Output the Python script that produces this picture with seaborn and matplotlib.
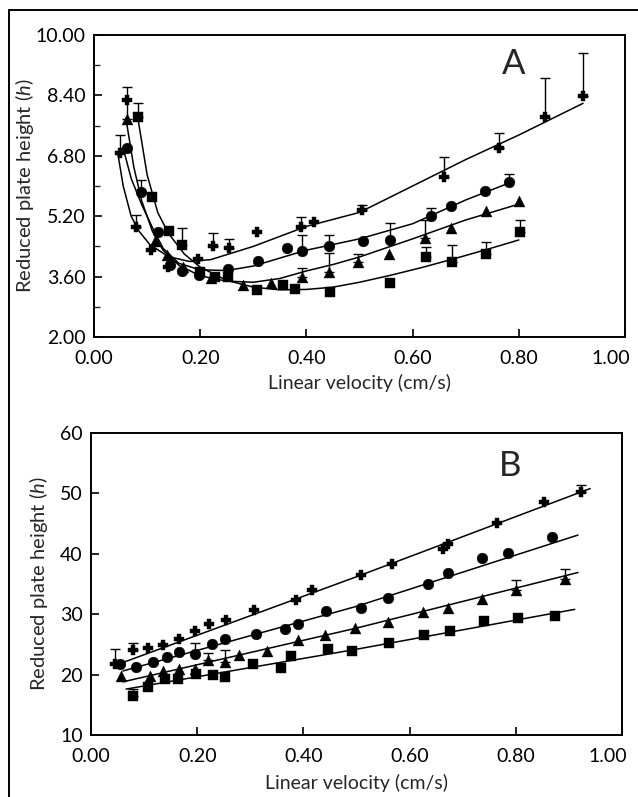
import numpy as np
import pandas as pd
import seaborn as sns
import matplotlib.pyplot as plt
import matplotlib.transforms as mtransforms
from matplotlib.lines import Line2D

# panel A data (linear velocity cm/s, reduced plate height h, top of error bar)
a_plus_v = [0.049, 0.062, 0.080, 0.108, 0.140, 0.196, 0.224, 0.255, 0.307, 0.389, 0.415, 0.504, 0.660, 0.763, 0.850, 0.921]
a_plus_h = [6.87, 8.28, 4.91, 4.30, 3.86, 4.06, 4.41, 4.35, 4.79, 4.92, 5.05, 5.36, 6.25, 7.00, 7.84, 8.38]
a_plus_top = [7.35, np.nan, 5.23, np.nan, np.nan, np.nan, 4.75, 4.60, np.nan, 5.19, np.nan, 5.50, 6.78, 7.40, 8.85, 9.53]

a_circ_v = [0.062, 0.088, 0.120, 0.143, 0.166, 0.197, 0.252, 0.308, 0.364, 0.392, 0.442, 0.506, 0.557, 0.635, 0.672, 0.736, 0.781]
a_circ_h = [7.00, 5.85, 4.79, 3.91, 3.76, 3.64, 3.79, 4.02, 4.35, 4.29, 4.41, 4.54, 4.57, 5.21, 5.48, 5.88, 6.10]
a_circ_top = [np.nan, 6.16, np.nan, np.nan, np.nan, np.nan, np.nan, np.nan, np.nan, 4.70, 4.70, np.nan, 5.01, 5.41, np.nan, np.nan, 6.32]

a_tri_v = [0.062, 0.115, 0.138, 0.168, 0.221, 0.280, 0.333, 0.392, 0.442, 0.498, 0.556, 0.624, 0.672, 0.738, 0.800]
a_tri_h = [7.77, 4.55, 4.17, 3.85, 3.55, 3.38, 3.42, 3.58, 3.71, 4.00, 4.19, 4.61, 4.88, 5.34, 5.61]
a_tri_top = [8.63, np.nan, np.nan, np.nan, np.nan, np.nan, np.nan, 3.82, 4.22, 4.20, np.nan, 5.10, np.nan, np.nan, np.nan]

a_sq_v = [0.082, 0.110, 0.141, 0.166, 0.199, 0.227, 0.252, 0.307, 0.355, 0.378, 0.445, 0.558, 0.625, 0.675, 0.739, 0.803]
a_sq_h = [7.84, 5.72, 4.82, 4.43, 3.71, 3.60, 3.60, 3.25, 3.38, 3.26, 3.20, 3.42, 4.13, 3.98, 4.19, 4.79]
a_sq_top = [8.19, np.nan, np.nan, 4.88, np.nan, np.nan, np.nan, np.nan, np.nan, np.nan, np.nan, np.nan, 4.39, 4.44, 4.52, 5.10]

# fitted curves, panel A
a_plus_fit_v = [0.045, 0.055, 0.070, 0.085, 0.105, 0.140, 0.180, 0.220, 0.300, 0.400, 0.500, 0.600, 0.700, 0.800, 0.921]
a_plus_fit_h = [6.85, 6.00, 5.20, 4.80, 4.45, 4.13, 4.00, 4.05, 4.40, 4.93, 5.30, 6.00, 6.70, 7.35, 8.19]
a_circ_fit_v = [0.055, 0.070, 0.090, 0.110, 0.130, 0.160, 0.200, 0.250, 0.300, 0.400, 0.500, 0.600, 0.700, 0.780]
a_circ_fit_h = [7.00, 6.20, 5.50, 4.90, 4.35, 3.95, 3.78, 3.76, 3.88, 4.30, 4.60, 5.00, 5.63, 6.07]
a_tri_fit_v = [0.060, 0.075, 0.090, 0.110, 0.130, 0.160, 0.200, 0.250, 0.300, 0.350, 0.400, 0.450, 0.500, 0.600, 0.700, 0.800]
a_tri_fit_h = [7.80, 6.50, 5.60, 4.80, 4.30, 3.90, 3.62, 3.48, 3.45, 3.55, 3.75, 3.92, 4.12, 4.60, 5.10, 5.52]
a_sq_fit_v = [0.082, 0.100, 0.120, 0.140, 0.170, 0.200, 0.250, 0.300, 0.350, 0.400, 0.450, 0.500, 0.560, 0.620, 0.680, 0.740, 0.800]
a_sq_fit_h = [7.85, 6.30, 5.30, 4.75, 4.20, 3.85, 3.50, 3.32, 3.25, 3.26, 3.32, 3.45, 3.64, 3.85, 4.08, 4.32, 4.57]

# panel B data
b_plus_v = [0.045, 0.080, 0.107, 0.135, 0.165, 0.195, 0.223, 0.255, 0.307, 0.386, 0.417, 0.509, 0.567, 0.662, 0.673, 0.764, 0.854, 0.923]
b_plus_h = [21.7, 24.1, 24.45, 24.84, 25.94, 27.19, 28.3, 29.12, 30.77, 32.4, 34.07, 36.54, 38.36, 40.78, 41.65, 45.17, 48.63, 50.28]
b_plus_top = [24.2, 25.3] + [np.nan] * 15 + [51.4]

b_circ_v = [0.054, 0.084, 0.116, 0.143, 0.166, 0.196, 0.228, 0.253, 0.310, 0.365, 0.390, 0.443, 0.509, 0.559, 0.635, 0.672, 0.737, 0.786, 0.868]
b_circ_h = [21.7, 21.3, 22.1, 22.97, 23.74, 23.35, 25.0, 25.82, 26.8, 27.6, 28.4, 30.5, 31.05, 32.7, 35.0, 36.9, 39.3, 40.2, 42.75]
b_circ_top = [np.nan] * 5 + [25.3] + [np.nan] * 13

b_tri_v = [0.057, 0.111, 0.135, 0.165, 0.195, 0.221, 0.253, 0.279, 0.332, 0.390, 0.440, 0.498, 0.559, 0.626, 0.672, 0.737, 0.801, 0.892]
b_tri_h = [19.8, 19.8, 20.6, 21.0, 21.0, 22.5, 22.1, 23.2, 23.9, 25.8, 26.6, 27.75, 28.7, 30.3, 31.05, 32.5, 34.07, 35.8]
b_tri_top = [np.nan] * 5 + [23.5, 24.15] + [np.nan] * 9 + [35.6, 37.5]

b_sq_v = [0.079, 0.107, 0.140, 0.163, 0.198, 0.229, 0.253, 0.306, 0.357, 0.377, 0.447, 0.492, 0.562, 0.628, 0.676, 0.741, 0.804, 0.873]
b_sq_h = [16.4, 17.9, 19.35, 19.35, 20.06, 19.9, 19.6, 21.7, 21.16, 23.0, 24.3, 23.9, 25.3, 26.5, 27.2, 28.85, 29.4, 29.7]
b_sq_top = [17.6] + [np.nan] * 17

b_plus_fit_v = [0.06, 0.50, 0.94]
b_plus_fit_h = [22.0, 36.2, 50.8]
b_circ_fit_v = [0.06, 0.50, 0.917]
b_circ_fit_h = [20.6, 31.3, 43.1]
b_tri_fit_v = [0.06, 0.50, 0.917]
b_tri_fit_h = [18.8, 27.7, 36.9]
b_sq_fit_v = [0.066, 0.50, 0.911]
b_sq_fit_h = [17.6, 24.2, 30.8]

x_ticks = [0, 0.2, 0.4, 0.6, 0.8, 1.0]
x_ticklabels = ["0.00", "0.20", "0.40", "0.60", "0.80", "1.00"]

sns.set_style("ticks")
plt.rcParams["font.family"] = ["Lato", "DejaVu Sans"]
plt.rcParams["mathtext.fontset"] = "custom"
plt.rcParams["mathtext.it"] = "Lato:italic"
plt.rcParams["mathtext.rm"] = "Lato"

fig = plt.figure(figsize=(6.38, 7.97), dpi=100)
axA = fig.add_axes([94 / 638, 1 - 337 / 797, 531 / 638, 302 / 797])
axB = fig.add_axes([91 / 638, 1 - 735 / 797, 531 / 638, 302 / 797])

# frame round the figure (left and top edges)
fig.add_artist(Line2D([9 / 638, 9 / 638], [0, 1 - 10 / 797], color="k", lw=1.4))
fig.add_artist(Line2D([9 / 638, 1], [1 - 10 / 797, 1 - 10 / 797], color="k", lw=1.4))

marker_of = {"plus": "P", "circ": "o", "tri": "^", "sq": "s"}
size_of = {"plus": 55, "circ": 60, "tri": 62, "sq": 55}


def draw_panel(ax, series, fits):
    for name, (v, h, top) in series.items():
        v = np.array(v)
        h = np.array(h)
        top = np.array(top)
        m = ~np.isnan(top)
        ax.errorbar(v[m], h[m], yerr=[np.zeros(m.sum()), top[m] - h[m]], fmt="none",
                    ecolor="k", elinewidth=1.0, capsize=3.5, capthick=1.0, zorder=2)
        df = pd.DataFrame({"v": v, "h": h})
        sns.scatterplot(data=df, x="v", y="h", marker=marker_of[name], s=size_of[name],
                        color="k", edgecolor="k", linewidth=0.3, ax=ax, zorder=3)
    for name, (fv, fh) in fits.items():
        df = pd.DataFrame({"v": fv, "h": fh})
        sns.lineplot(data=df, x="v", y="h", color="k", lw=1.1, sort=False,
                     estimator=None, ax=ax, zorder=1)


draw_panel(axA,
           {"plus": (a_plus_v, a_plus_h, a_plus_top),
            "circ": (a_circ_v, a_circ_h, a_circ_top),
            "tri": (a_tri_v, a_tri_h, a_tri_top),
            "sq": (a_sq_v, a_sq_h, a_sq_top)},
           {"plus": (a_plus_fit_v, a_plus_fit_h),
            "circ": (a_circ_fit_v, a_circ_fit_h),
            "tri": (a_tri_fit_v, a_tri_fit_h),
            "sq": (a_sq_fit_v, a_sq_fit_h)})

draw_panel(axB,
           {"plus": (b_plus_v, b_plus_h, b_plus_top),
            "circ": (b_circ_v, b_circ_h, b_circ_top),
            "tri": (b_tri_v, b_tri_h, b_tri_top),
            "sq": (b_sq_v, b_sq_h, b_sq_top)},
           {"plus": (b_plus_fit_v, b_plus_fit_h),
            "circ": (b_circ_fit_v, b_circ_fit_h),
            "tri": (b_tri_fit_v, b_tri_fit_h),
            "sq": (b_sq_fit_v, b_sq_fit_h)})

axA.set_xlim(0, 1)
axA.set_ylim(2, 10)
axA.set_yticks([2.0, 3.6, 5.2, 6.8, 8.4, 10.0])
axA.set_yticks([2.8, 4.4, 6.0, 7.6, 9.2], minor=True)
axA.set_yticklabels(["2.00", "3.60", "5.20", "6.80", "8.40", "10.00"])
axA.text(0.79, 0.905, "A", transform=axA.transAxes, fontsize=25, ha="center", va="center")

axB.set_xlim(0, 1)
axB.set_ylim(10, 60)
axB.set_yticks([10, 20, 30, 40, 50, 60])
axB.text(0.79, 0.89, "B", transform=axB.transAxes, fontsize=25, ha="center", va="center")

shift_left = mtransforms.ScaledTranslation(-14 / 100, 0, fig.dpi_scale_trans)
for ax in (axA, axB):
    ax.set_xticks(x_ticks)
    ax.set_xticklabels(x_ticklabels)
    ax.tick_params(axis="both", which="major", direction="in", length=6, width=1.2,
                   labelsize=14, colors="k")
    ax.tick_params(axis="x", which="major", pad=9)
    ax.tick_params(axis="y", which="major", pad=6)
    ax.tick_params(axis="y", which="minor", direction="in", length=4, width=1.0)
    for sp in ax.spines.values():
        sp.set_linewidth(1.4)
        sp.set_color("k")
    ax.set_xlabel("Linear velocity (cm/s)", fontsize=14)
    ax.set_ylabel("Reduced plate height ($\\it{h}$)", fontsize=14.5)
    last = ax.get_xticklabels()[-1]
    last.set_transform(last.get_transform() + shift_left)

axA.xaxis.set_label_coords(0.5, -0.123)
axB.xaxis.set_label_coords(0.5, -0.129)
axA.yaxis.set_label_coords(-0.109, 0.5)
axB.yaxis.set_label_coords(-0.077, 0.5)

fig.savefig("out.png", dpi=100)
